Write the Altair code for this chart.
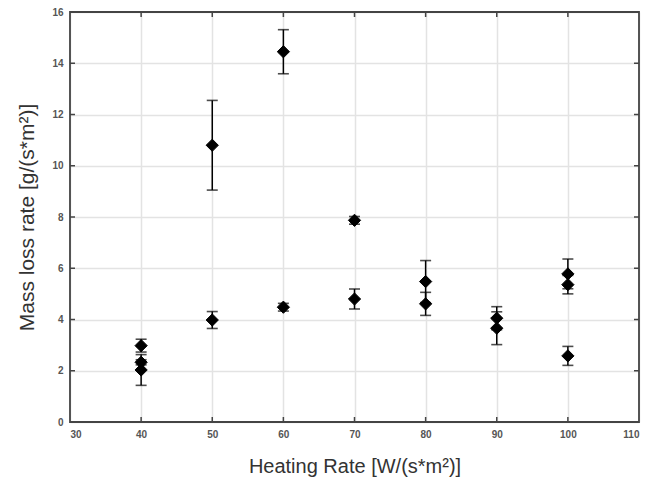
import altair as alt
import pandas as pd

# Data
heating_rate = [40, 40, 40, 50, 50, 60, 60, 70, 70, 80, 80, 90, 90, 100, 100, 100]
mass_loss = [2.98, 2.33, 2.03, 10.8, 3.98, 14.45, 4.48, 7.87, 4.80, 5.48, 4.61, 4.05, 3.66, 5.78, 5.36, 2.58]
err = [0.25, 0.10, 0.60, 1.75, 0.33, 0.86, 0.15, 0.15, 0.39, 0.82, 0.45, 0.45, 0.64, 0.58, 0.36, 0.37]

x_ticks = [30, 40, 50, 60, 70, 80, 90, 100, 110]
y_ticks = [0, 2, 4, 6, 8, 10, 12, 14, 16]

df = pd.DataFrame({"x": heating_rate, "y": mass_loss, "e": err})
df["lo"] = df["y"] - df["e"]
df["hi"] = df["y"] + df["e"]

W, H = 569, 410

xscale = alt.Scale(domain=[30, 110], nice=False, zero=False)
yscale = alt.Scale(domain=[0, 16], nice=False, zero=False)

label_style = dict(labelFontSize=10, labelFontWeight="bold", labelColor="#555555",
                   labelFont="Liberation Sans", titleFont="Liberation Sans",
                   titleFontWeight="normal", titleColor="#333333",
                   grid=True, gridColor="#e3e3e3", gridWidth=1.5,
                   ticks=False, domain=False)

xaxis = alt.Axis(values=x_ticks, title="Heating Rate [W/(s*m²)]", labelPadding=7,
                 titlePadding=17, titleFontSize=20, format="d", **label_style)
yaxis = alt.Axis(values=y_ticks, title="Mass loss rate [g/(s*m²)]", labelPadding=7,
                 titlePadding=14, titleFontSize=21, format="d", **label_style)

base = alt.Chart(df)

rules = base.mark_rule(color="black", strokeWidth=1.5).encode(
    x=alt.X("x:Q", scale=xscale, axis=xaxis),
    y=alt.Y("lo:Q", scale=yscale, axis=yaxis),
    y2="hi:Q",
)
cap_lo = base.mark_tick(color="black", orient="horizontal", size=11, thickness=1.6).encode(
    x=alt.X("x:Q", scale=xscale), y=alt.Y("lo:Q", scale=yscale))
cap_hi = base.mark_tick(color="black", orient="horizontal", size=11, thickness=1.6).encode(
    x=alt.X("x:Q", scale=xscale), y=alt.Y("hi:Q", scale=yscale))
points = base.mark_point(shape="diamond", filled=True, color="black", size=150,
                         opacity=1, stroke="black", strokeWidth=1).encode(
    x=alt.X("x:Q", scale=xscale), y=alt.Y("y:Q", scale=yscale))

# inward box ticks
xt = pd.DataFrame({"t": x_ticks[1:-1]})
yt = pd.DataFrame({"t": y_ticks[1:-1]})
tick_style = dict(color="#444444", strokeWidth=1.5)
xt_bot = alt.Chart(xt).mark_rule(**tick_style).encode(
    x=alt.X("t:Q", scale=xscale), y=alt.value(H), y2=alt.value(H - 5))
xt_top = alt.Chart(xt).mark_rule(**tick_style).encode(
    x=alt.X("t:Q", scale=xscale), y=alt.value(0), y2=alt.value(5))
yt_left = alt.Chart(yt).mark_rule(**tick_style).encode(
    y=alt.Y("t:Q", scale=yscale), x=alt.value(0), x2=alt.value(5))
yt_right = alt.Chart(yt).mark_rule(**tick_style).encode(
    y=alt.Y("t:Q", scale=yscale), x=alt.value(W), x2=alt.value(W - 5))

# plot box frame
frame = alt.Chart(pd.DataFrame({"k": [0]})).mark_rect(
    fill=None, filled=False, stroke="#444444", strokeWidth=1.8).encode(
    x=alt.value(0), x2=alt.value(W), y=alt.value(0), y2=alt.value(H))

chart = alt.layer(rules, cap_lo, cap_hi, points, xt_bot, xt_top, yt_left, yt_right, frame).properties(
    width=W, height=H,
    autosize=alt.AutoSizeParams(type="none"),
    padding={"left": 62, "top": 4, "right": 5, "bottom": 58},
    background="white",
).configure_view(stroke=None)

chart.save("out.html", embed_options={"renderer": "svg", "actions": False})
